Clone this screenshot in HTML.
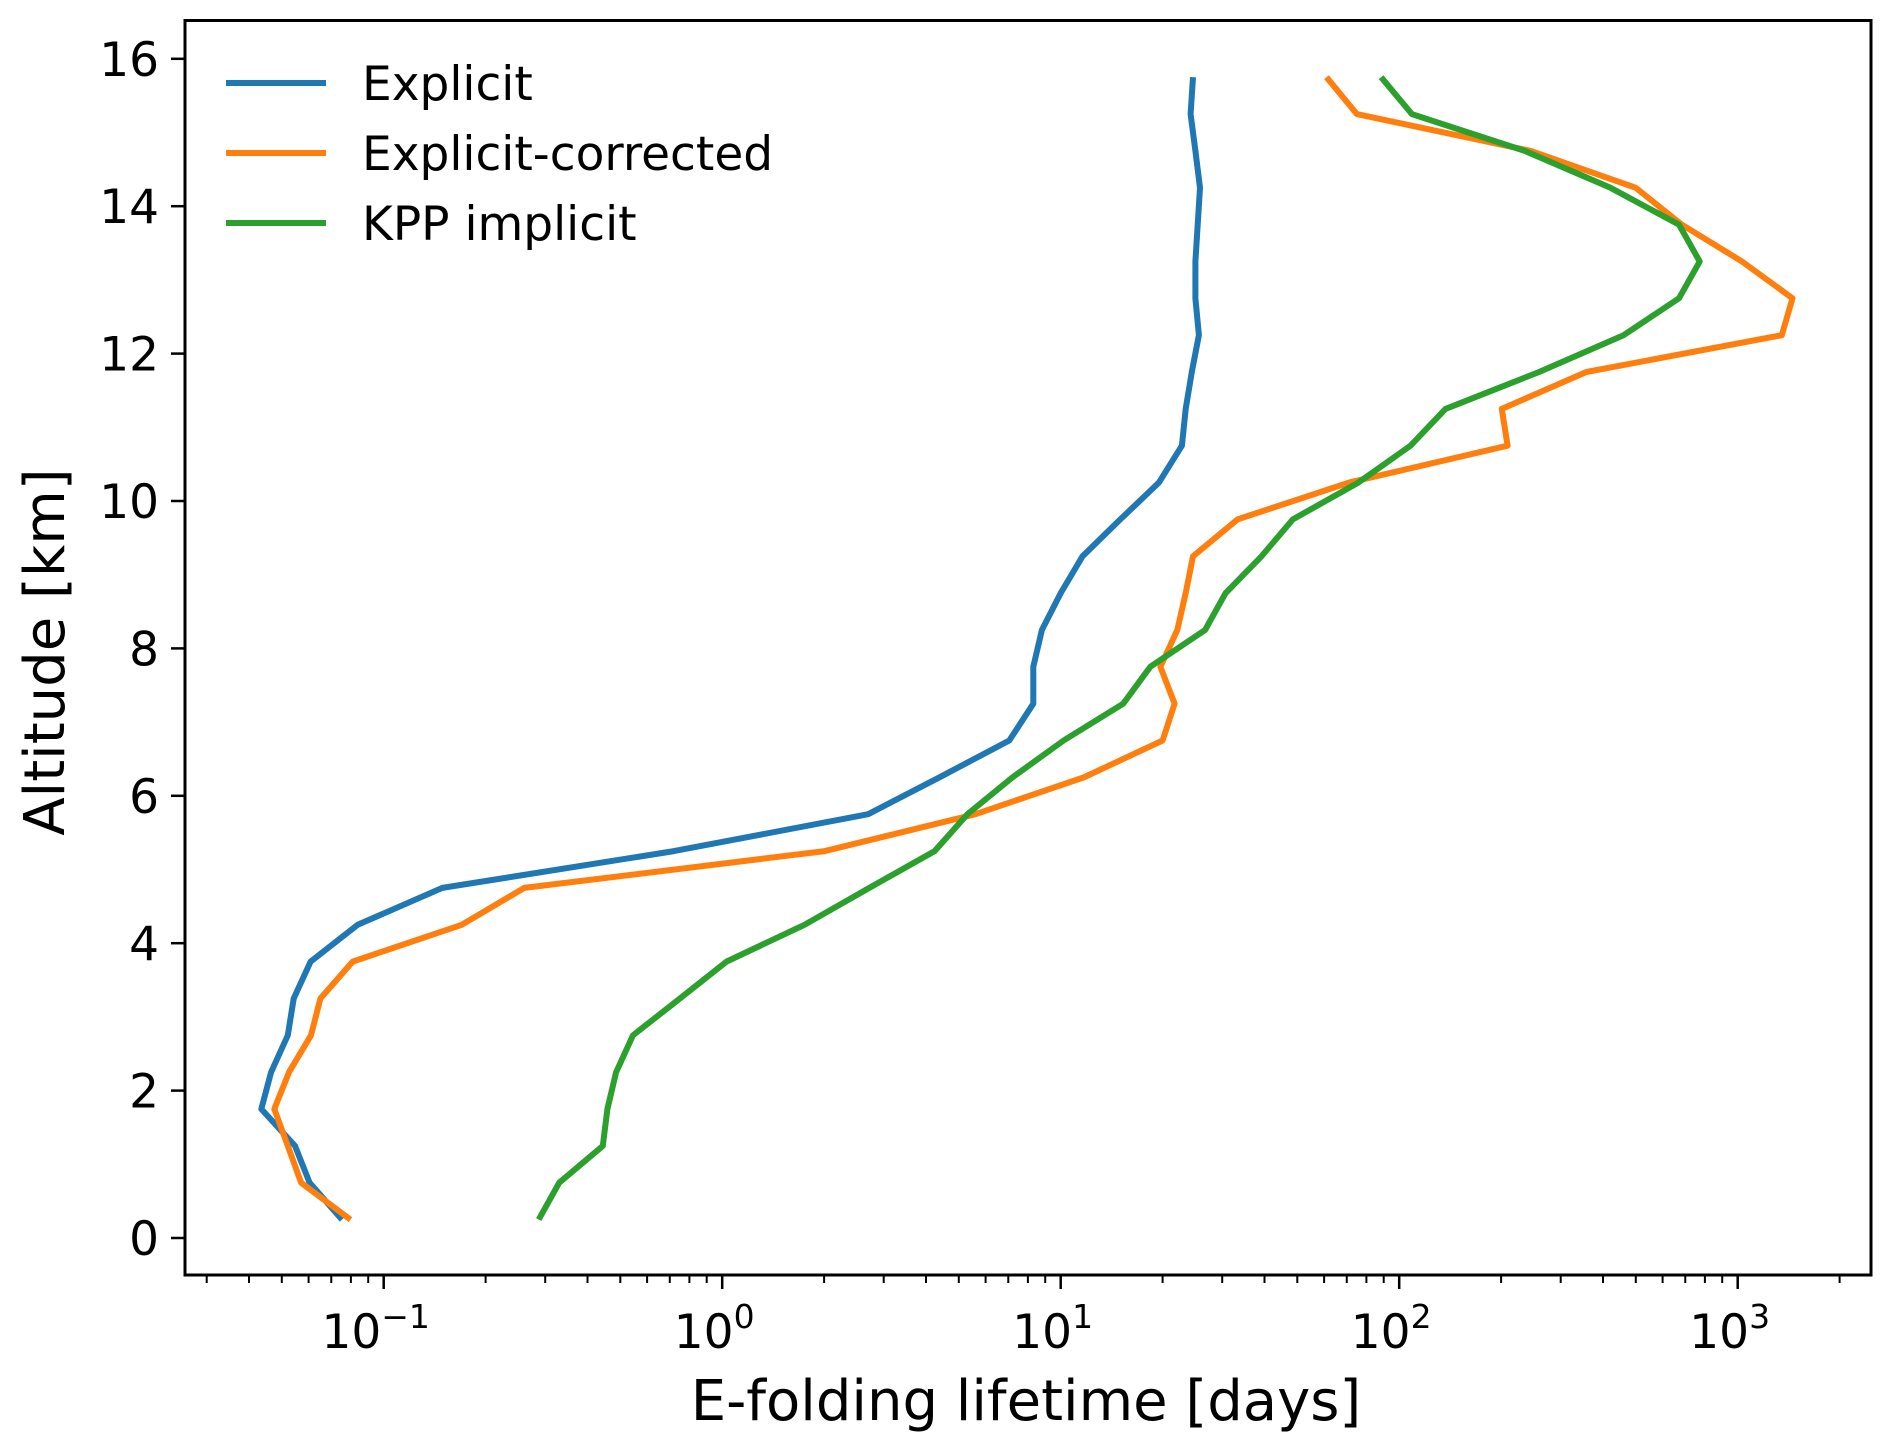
<!DOCTYPE html>
<html><head><meta charset="utf-8"><style>
html,body{margin:0;padding:0;background:#fff;}
svg{display:block;font-family:"DejaVu Sans","Liberation Sans",sans-serif;}
</style></head><body>
<svg id="chart" width="1892" height="1449" viewBox="0 0 1892 1449" xmlns="http://www.w3.org/2000/svg">
<g id="plot"></g>
</svg>
<script>
const altitudes = [0.25,0.75,1.25,1.75,2.25,2.75,3.25,3.75,4.25,4.75,5.25,5.75,6.25,6.75,7.25,7.75,8.25,8.75,9.25,9.75,10.25,10.75,11.25,11.75,12.25,12.75,13.25,13.75,14.25,14.75,15.25,15.75];
const explicitVals = [0.0753,0.0604,0.0547,0.0435,0.0465,0.0521,0.0542,0.0608,0.0838,0.149,0.72,2.70,4.38,7.05,8.3,8.3,8.8,10.0,11.6,15.0,19.5,22.8,23.4,24.4,25.6,25.0,25.0,25.4,25.8,25.0,24.2,24.6];
const correctedVals = [0.0798,0.057,0.0521,0.0475,0.0525,0.061,0.065,0.081,0.170,0.260,2.01,5.6,11.7,20.0,21.7,19.7,22.1,23.4,24.6,33.3,71,209,201,357,1350,1452,1030,683,500,245,75,61];
const kppVals = [0.287,0.330,0.444,0.458,0.486,0.545,0.75,1.03,1.75,2.72,4.24,5.3,7.2,10.2,15.3,18.4,26.7,30.7,39.2,48.5,75.7,108,137,259,460,671,772,671,421,235,109,88.4];
const yTicks = [0,2,4,6,8,10,12,14,16];
const xTickExps = [-1,0,1,2,3];
const seriesNames = ["Explicit","Explicit-corrected","KPP implicit"];

const NS="http://www.w3.org/2000/svg";
const L=185,R=1871,T=20.5,B=1275;
function xs(v){return 383.7+(Math.log10(v)+1)*338.5;}
function ys(a){return 1238-a*73.7;}
const g=document.getElementById('plot');
function mk(tag,attrs){const e=document.createElementNS(NS,tag);for(const k in attrs)e.setAttribute(k,attrs[k]);g.appendChild(e);return e;}

const colors=["#1f77b4","#ff7f0e","#2ca02c"];
[explicitVals,correctedVals,kppVals].forEach((vals,i)=>{
  const d=vals.map((v,j)=>(j?'L':'M')+xs(v).toFixed(1)+','+ys(altitudes[j]).toFixed(1)).join('');
  const p=mk('path',{d:d,fill:'none',stroke:colors[i],'stroke-width':6,'stroke-linejoin':'round'});
  
  
});

const fr=mk('rect',{x:L,y:T,width:R-L,height:B-T,fill:'none',stroke:'#000','stroke-width':3});



yTicks.forEach(t=>{
  const y=ys(t);
  const tk=mk('line',{x1:L-14,x2:L,y1:y,y2:y,stroke:'#000','stroke-width':2.5});
  
  
  const tx=mk('text',{x:L-26,y:y+17,'text-anchor':'end','font-size':47});
  tx.textContent=t;
  
  
});
for(let e=-2;e<=3;e++){
  for(let m=1;m<10;m++){
    const v=m*Math.pow(10,e);const x=xs(v);
    if(x<L||x>R)continue;
    const major=m===1;
    const tk=mk('line',{x1:x,x2:x,y1:B,y2:B+(major?14:8),stroke:'#000','stroke-width':major?2.5:2});
    
    
  }
}
xTickExps.forEach(e=>{
  const x=xs(Math.pow(10,e));
  const tx=mk('text',{x:x-8,y:1348,'text-anchor':'middle','font-size':47});
  
  
  tx.appendChild(document.createTextNode('10'));
  const s=document.createElementNS(NS,'tspan');
  s.setAttribute('dy',-20);s.setAttribute('font-size',33);
  s.textContent=e<0?'\u2212'+(-e):String(e);
  tx.appendChild(s);
});
const xt=mk('text',{x:1026,y:1420,'text-anchor':'middle','font-size':56});
xt.textContent='E-folding lifetime [days]';


const yt=mk('text',{x:0,y:0,'text-anchor':'middle','font-size':56,transform:'translate(64,652) rotate(-90)'});
yt.textContent='Altitude [km]';


seriesNames.forEach((n,i)=>{
  const y=83+i*70;
  const ln=mk('line',{x1:226,x2:326,y1:y,y2:y,stroke:colors[i],'stroke-width':6});
  
  
  const tx=mk('text',{x:362,y:y+17,'font-size':47});
  tx.textContent=n;
  
  
});
</script>
</body></html>
